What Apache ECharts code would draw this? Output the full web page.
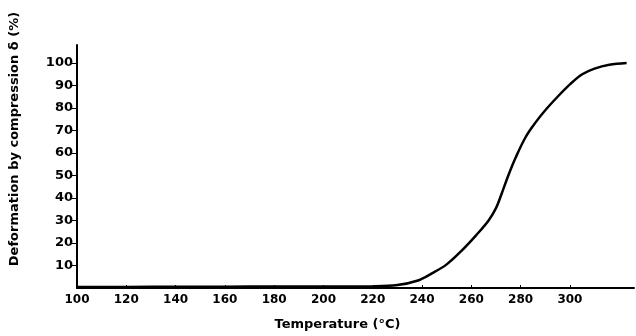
<!DOCTYPE html>
<html>
<head>
<meta charset="utf-8">
<script src="https://cdn.jsdelivr.net/npm/echarts@6/dist/echarts.min.js"></script>
<style>
  html, body { margin: 0; padding: 0; background: #fff; }
  #chart { width: 636px; height: 336px; }
</style>
</head>
<body>
<div id="chart"></div>
<script>
// temperature (°C) and deformation (%)
const temps = [100, 120, 140, 160, 180, 200, 220, 230, 238, 244, 250, 256, 262, 267, 270, 272, 275, 278, 282, 286, 290, 295, 300, 305, 310, 316, 323]
const deform = [0.5, 0.5, 0.6, 0.6, 0.7, 0.7, 0.8, 1.3, 3.2, 6.5, 10.5, 16.5, 23.5, 30, 35.5, 41, 50, 58, 67, 73.5, 79, 85, 90.5, 95, 97.5, 99.2, 100]
const xTicks = [100, 120, 140, 160, 180, 200, 220, 240, 260, 280, 300]
const yTicks = [10, 20, 30, 40, 50, 60, 70, 80, 90, 100]

const chart = echarts.init(document.getElementById('chart'))
const font = 'DejaVu Sans'

chart.setOption({
  animation: false,
  grid: { left: 75, right: 2, top: 45, bottom: 48 },
  xAxis: {
    type: 'value',
    min: 100,
    max: 326,
    name: 'Temperature (°C)',
    nameLocation: 'middle',
    nameGap: 30,
    nameTextStyle: { color: '#000', fontFamily: font, fontSize: 13, fontWeight: 'bold', padding: [0, 36, 0, 0] },
    axisLine: { lineStyle: { color: '#000', width: 2 } },
    axisTick: { show: true, length: 3, inside: true, customValues: xTicks, lineStyle: { color: '#000' } },
    axisLabel: { customValues: xTicks, color: '#000', fontFamily: font, fontSize: 12, fontWeight: 'bold', margin: 6 },
    splitLine: { show: false }
  },
  yAxis: {
    type: 'value',
    min: 0,
    max: 108,
    name: 'Deformation by compression δ (%)',
    nameLocation: 'middle',
    nameGap: 56,
    nameTextStyle: { color: '#000', fontFamily: font, fontSize: 13, fontWeight: 'bold', padding: [0, 0, 0, 55] },
    axisLine: { show: true, lineStyle: { color: '#000', width: 2 } },
    axisTick: { show: true, length: 5, customValues: yTicks, lineStyle: { color: '#000' } },
    axisLabel: { customValues: yTicks, color: '#000', fontFamily: font, fontSize: 13, fontWeight: 'bold', margin: 4 },
    splitLine: { show: false }
  },
  series: [{
    type: 'line',
    data: temps.map((t, i) => [t, deform[i]]),
    smooth: 0.35,
    showSymbol: false,
    lineStyle: { color: '#000', width: 2.5 }
  }]
})
</script>
</body>
</html>
